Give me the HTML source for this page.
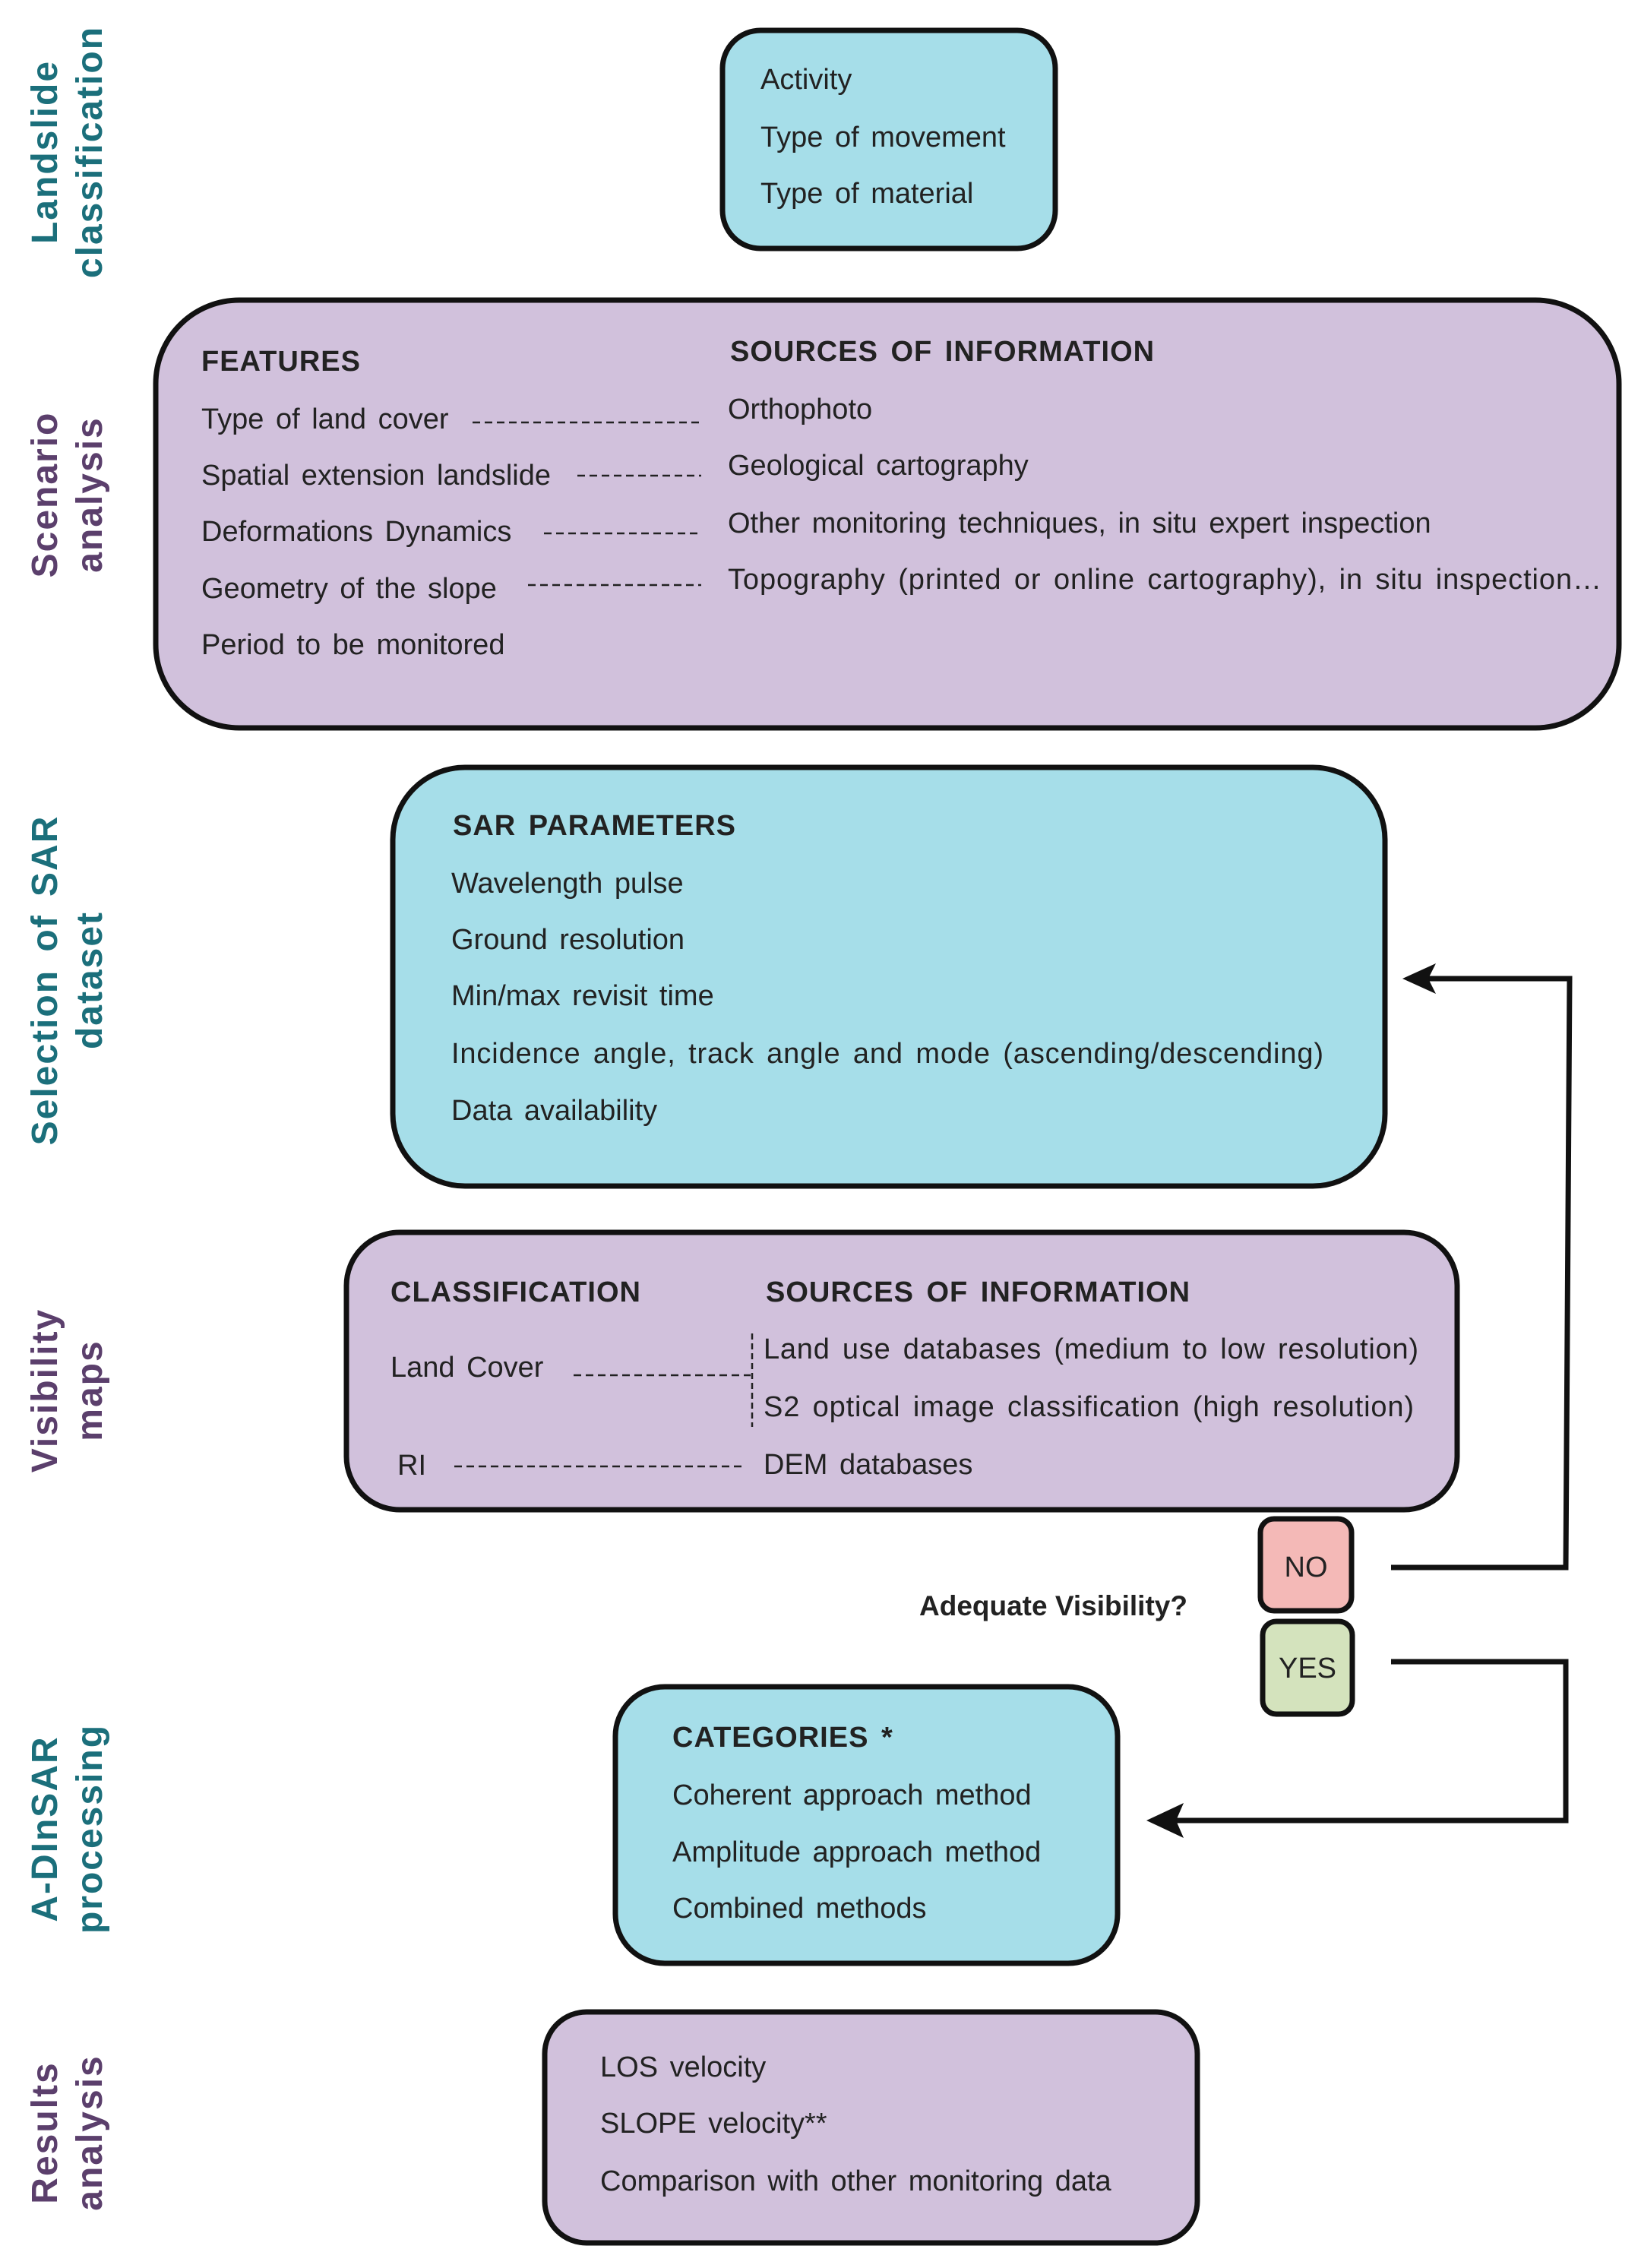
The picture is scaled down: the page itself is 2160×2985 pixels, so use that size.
<!DOCTYPE html>
<html><head><meta charset="utf-8"><style>
html,body{margin:0;padding:0;background:#fff;}
svg{display:block}
text{font-family:"Liberation Sans",sans-serif;font-size:38px;fill:#222;word-spacing:5px}
.h{font-weight:bold;letter-spacing:1px}
.side{font-weight:bold;font-size:48px;letter-spacing:2px;word-spacing:8px}
.t{fill:#1b6f7b}.p{fill:#5b3f6c}
</style></head><body>
<svg width="2160" height="2985" viewBox="0 0 2160 2985" xmlns="http://www.w3.org/2000/svg">
<g text-anchor="middle">
<text class="side t" transform="translate(75,200) rotate(-90)">Landslide</text>
<text class="side t" transform="translate(134,200) rotate(-90)">classification</text>
<text class="side p" transform="translate(75,651) rotate(-90)">Scenario</text>
<text class="side p" transform="translate(134,651) rotate(-90)">analysis</text>
<text class="side t" transform="translate(75,1290) rotate(-90)">Selection  of  SAR</text>
<text class="side t" transform="translate(134,1290) rotate(-90)">dataset</text>
<text class="side p" transform="translate(75,1830) rotate(-90)">Visibility</text>
<text class="side p" transform="translate(134,1830) rotate(-90)">maps</text>
<text class="side t" transform="translate(75,2407) rotate(-90)">A-DInSAR</text>
<text class="side t" transform="translate(134,2407) rotate(-90)">processing</text>
<text class="side p" transform="translate(75,2807) rotate(-90)">Results</text>
<text class="side p" transform="translate(134,2807) rotate(-90)">analysis</text>
</g>
<g stroke="#111" stroke-width="7">
<rect x="951" y="40" width="438" height="287" rx="50" fill="#a6dee9"/>
<rect x="205" y="395" width="1926" height="563" rx="110" fill="#d1c1dc"/>
<rect x="517" y="1010" width="1306" height="551" rx="95" fill="#a6dee9"/>
<rect x="456" y="1622" width="1462" height="365" rx="70" fill="#d1c1dc"/>
<rect x="1659" y="1999" width="120" height="121" rx="18" fill="#f4b9b7"/>
<rect x="1662" y="2134" width="118" height="122" rx="18" fill="#d4e3bd"/>
<rect x="810" y="2220" width="661" height="364" rx="65" fill="#a6dee9"/>
<rect x="717" y="2648" width="859" height="304" rx="55" fill="#d1c1dc"/>
</g>
<text x="1001" y="117">Activity</text>
<text x="1001" y="193">Type of movement</text>
<text x="1001" y="267">Type of material</text>
<text class="h" x="265" y="488">FEATURES</text>
<text class="h" x="961" y="475">SOURCES OF INFORMATION</text>
<text x="265" y="564">Type of land cover</text>
<text x="265" y="638">Spatial extension landslide</text>
<text x="265" y="712">Deformations Dynamics</text>
<text x="265" y="787">Geometry of the slope</text>
<text x="265" y="861">Period to be monitored</text>
<text x="958" y="551">Orthophoto</text>
<text x="958" y="625">Geological cartography</text>
<text x="958" y="701">Other monitoring techniques,  in situ expert inspection</text>
<text x="958" y="775" textLength="1150">Topography (printed or online cartography), in situ inspection…</text>
<g stroke="#222" stroke-width="2.5" stroke-dasharray="10,6">
<line x1="622" y1="556" x2="923" y2="556"/>
<line x1="760" y1="626" x2="923" y2="626"/>
<line x1="716" y1="702" x2="923" y2="702"/>
<line x1="695" y1="770" x2="923" y2="770"/>
</g>
<text class="h" x="596" y="1099">SAR PARAMETERS</text>
<text x="594" y="1175">Wavelength pulse</text>
<text x="594" y="1249">Ground resolution</text>
<text x="594" y="1323">Min/max revisit time</text>
<text x="594" y="1399" textLength="1148">Incidence angle, track angle and mode (ascending/descending)</text>
<text x="594" y="1474">Data availability</text>
<text class="h" x="514" y="1713">CLASSIFICATION</text>
<text class="h" x="1008" y="1713">SOURCES OF INFORMATION</text>
<text x="514" y="1812">Land Cover</text>
<text x="1005" y="1788" textLength="862">Land use databases (medium to low resolution)</text>
<text x="1005" y="1864" textLength="856">S2 optical image classification (high resolution)</text>
<text x="523" y="1941">RI</text>
<text x="1005" y="1940">DEM databases</text>
<g stroke="#222" stroke-width="2.5" stroke-dasharray="10,6">
<line x1="755" y1="1810" x2="988" y2="1810"/>
<line x1="990" y1="1755" x2="990" y2="1878" stroke-dasharray="8,5"/>
<line x1="598" y1="1930" x2="980" y2="1930"/>
</g>
<text x="1719" y="2075" text-anchor="middle">NO</text>
<text x="1721" y="2208" text-anchor="middle">YES</text>
<text x="1210" y="2126" font-weight="bold" style="font-size:37px;word-spacing:0">Adequate Visibility?</text>
<g fill="none" stroke="#111" stroke-width="7">
<polyline points="1831,2063 2061,2063 2066,1288 1875,1288"/>
<polyline points="1831,2187 2061,2187 2061,2396 1540,2396"/>
</g>
<polygon points="1846,1288 1890,1268 1880,1288 1890,1308" fill="#111"/>
<polygon points="1509,2396 1558,2373 1548,2396 1558,2419" fill="#111"/>
<text class="h" x="885" y="2299">CATEGORIES  *</text>
<text x="885" y="2375">Coherent approach method</text>
<text x="885" y="2450">Amplitude approach method</text>
<text x="885" y="2524">Combined methods</text>
<text x="790" y="2733">LOS velocity</text>
<text x="790" y="2807">SLOPE velocity**</text>
<text x="790" y="2883">Comparison with other monitoring data</text>
</svg>
</body></html>
